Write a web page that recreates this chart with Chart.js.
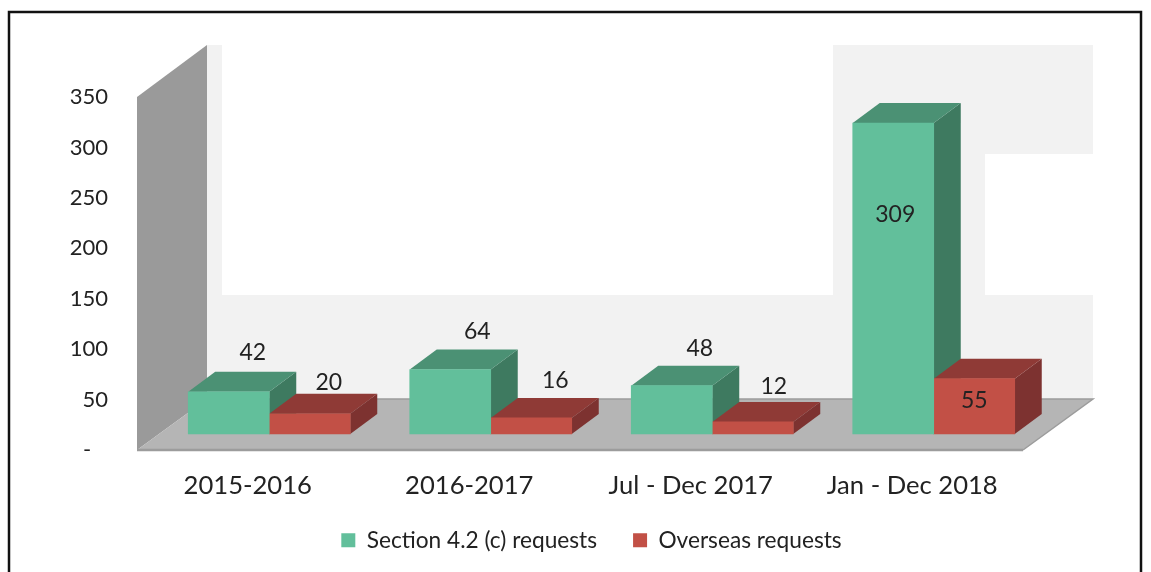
<!DOCTYPE html>
<html><head><meta charset="utf-8">
<style>html,body{margin:0;padding:0;background:#fff}canvas{display:block}</style>
<script src="https://cdn.jsdelivr.net/npm/chart.js@4/dist/chart.umd.min.js"></script>
</head><body><canvas id="c" width="1151" height="572"></canvas>
<script>
const categories = ['2015-2016','2016-2017','Jul - Dec 2017','Jan - Dec 2018'];
const section42 = [42,64,48,309];
const overseas = [20,16,12,55];
const yTicks = [0,50,100,150,200,250,300,350];

const FONT = 'Lato, Carlito, sans-serif';
const TXT = '#222222';
const DX = 27, DY = -20;
const LEGEND_PAD = 36;
const faces = [
  {front:'#62bf9b', top:'#4b9174', side:'#3e7a60'},
  {front:'#c25046', top:'#8f3a36', side:'#7d3230'}
];
// label placement relative to front-top-centre of each bar
const labelPlace = [
  [[24,-39],[27,-38],[28,-37],[2,92]],
  [[19,-31],[24,-37],[21,-35],[0,22]]
];
function poly(ctx, pts, fill){
  ctx.beginPath();
  pts.forEach((p,i)=> i?ctx.lineTo(p[0],p[1]):ctx.moveTo(p[0],p[1]));
  ctx.closePath(); ctx.fillStyle=fill; ctx.fill();
}
const scene = {
  id:'scene',
  afterLayout(chart){
    const l = chart.legend;
    const h = l.bottom - l.top;
    l.left += 70; l.right += 70;
    l.top = 541 - LEGEND_PAD - 12; l.bottom = l.top + h;
  },
  beforeDraw(chart){
    const {ctx, chartArea:a, scales:{y}} = chart;
    ctx.save();
    ctx.fillStyle='#fff'; ctx.fillRect(0,0,chart.width,chart.height);
    const wallDX=70, wallDY=-51;
    const x0=a.left, x1=a.right, y0=y.getPixelForValue(0), yT=y.getPixelForValue(350);
    const bx0=x0+wallDX, bx1=x1+wallDX, by0=y0+wallDY, byT=45;
    // back wall
    ctx.fillStyle='#f2f2f2';
    ctx.fillRect(bx0,byT,15,by0-byT);
    ctx.fillRect(bx0,295,bx1-bx0,by0-295);
    ctx.fillRect(833,byT,bx1-833,109);
    ctx.fillRect(833,byT,152,295-byT);
    // side wall
    poly(ctx,[[x0,yT],[bx0,byT],[bx0,by0],[x0,y0]],'#9a9a9a');
    // floor
    poly(ctx,[[x0,y0],[bx0,by0],[bx1,by0],[x1,y0]],'#b5b5b5');
    ctx.strokeStyle='#9c9c9c'; ctx.lineWidth=1.5;
    ctx.beginPath(); ctx.moveTo(bx0,by0); ctx.lineTo(bx1,by0); ctx.lineTo(x1,y0); ctx.stroke();
    ctx.lineWidth=2.5; ctx.beginPath(); ctx.moveTo(x0,y0); ctx.lineTo(x1,y0); ctx.stroke();
    // page frame
    ctx.strokeStyle='#111'; ctx.lineWidth=2.5;
    ctx.beginPath(); ctx.moveTo(9,chart.height+2); ctx.lineTo(9,12); ctx.lineTo(1141,12); ctx.lineTo(1141,chart.height+2); ctx.stroke();
    ctx.restore();
  },
  beforeDatasetsDraw(chart){
    const ctx = chart.ctx;
    ctx.save();
    chart.data.datasets.forEach((ds,d)=>{
      chart.getDatasetMeta(d).data.forEach(b=>{
        const l=b.x-b.width/2, r=b.x+b.width/2, t=b.y, bt=b.base;
        poly(ctx,[[r,t],[r+DX,t+DY],[r+DX,bt+DY],[r,bt]],faces[d].side);
        poly(ctx,[[l,t],[l+DX,t+DY],[r+DX,t+DY],[r,t]],faces[d].top);
      });
    });
    ctx.restore();
  },
  afterDatasetsDraw(chart){
    const ctx = chart.ctx;
    ctx.save();
    ctx.font='23px '+FONT; ctx.fillStyle=TXT; ctx.textAlign='center'; ctx.textBaseline='middle';
    chart.data.datasets.forEach((ds,d)=>{
      chart.getDatasetMeta(d).data.forEach((b,i)=>{
        const p=labelPlace[d][i];
        ctx.fillText(String(ds.data[i].y), b.x+p[0], b.y+p[1]);
      });
    });
    ctx.restore();
  }
};
const series = (label,vals,d)=>({
  label, backgroundColor:faces[d].front, borderWidth:0,
  xAxisID:'x2', yAxisID:'y2',
  data: vals.map((v,i)=>({x:i,y:v})),
  barThickness:81
});
new Chart(document.getElementById('c'),{
  type:'bar',
  data:{labels:categories,datasets:[series('Section 4.2 (c) requests',section42,0),series('Overseas requests',overseas,1)]},
  plugins:[scene],
  options:{
    responsive:false, animation:false,
    layout:{padding:{left:20,right:128,top:97,bottom:0}},
    plugins:{
      tooltip:{enabled:false},
      title:{display:false},
      legend:{display:true,position:'bottom',
        labels:{boxWidth:14,boxHeight:14,padding:LEGEND_PAD,color:TXT,font:{family:FONT,size:22.7}}}
    },
    scales:{
      x:{type:'category',offset:true,grid:{display:false,drawTicks:false},border:{display:false},
        afterFit(s){s.height=572-450-(s.chart.legend?s.chart.legend.height:94)},
        ticks:{color:TXT,padding:20,maxRotation:0,autoSkip:false,font:{family:FONT,size:25.6}}},
      y:{type:'linear',position:'left',min:0,max:350,grid:{display:false,drawTicks:false},border:{display:false},
        afterFit(s){s.width=117},
        afterBuildTicks(s){s.ticks=yTicks.map(v=>({value:v}))},
        ticks:{color:TXT,padding:29,font:{family:FONT,size:22},callback:v=>v===0?'-   ':String(v)}},
      x2:{type:'linear',display:false,offset:false,min:-0.597,max:3.403,grid:{display:false}},
      y2:{type:'linear',display:false,position:'left',min:-15.9,max:334.8,grid:{display:false}}
    }
  }
});
</script></body></html>
